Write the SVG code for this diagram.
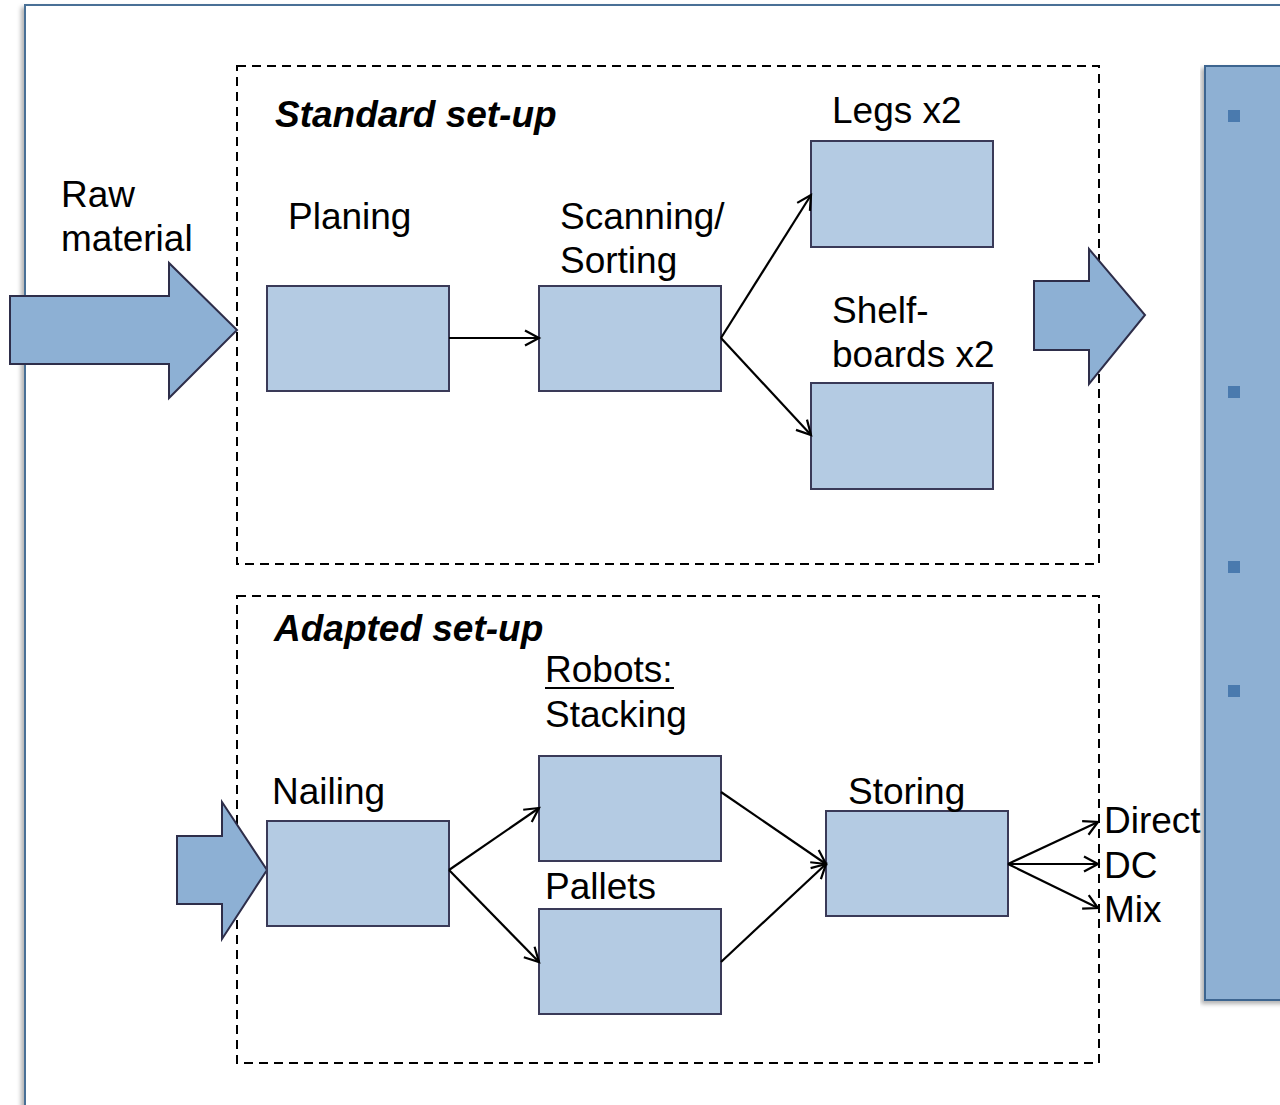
<svg xmlns="http://www.w3.org/2000/svg" width="1280" height="1105" viewBox="0 0 1280 1105">
<defs>
<style>
.t{font-family:"Liberation Sans",Arial,sans-serif;font-size:37px;fill:#000}
.b{font-weight:bold;font-style:italic}
.box{fill:#b4cbe3;stroke:#3a3a58;stroke-width:2}
.blk{fill:#8db0d4;stroke:#2e2e4a;stroke-width:2;stroke-linejoin:miter}
.dash{fill:none;stroke:#000;stroke-width:2;stroke-dasharray:9,6}
.c{fill:none;stroke:#000;stroke-width:2.2}
.bul{fill:#4a7aae}
</style>
<marker id="ah" markerWidth="18" markerHeight="18" refX="15" refY="9" orient="auto" markerUnits="userSpaceOnUse">
<path d="M1,1.5 L15,9 L1,16.5" fill="none" stroke="#000" stroke-width="2.2"/>
</marker>
<filter id="sh" x="-5%" y="-5%" width="110%" height="110%">
<feDropShadow dx="-3" dy="3" stdDeviation="2" flood-color="#000" flood-opacity="0.3"/>
</filter>
</defs>
<rect width="1280" height="1105" fill="#fff"/>
<g id="frame">
<rect x="25" y="5" width="1270" height="1120" fill="#fff" stroke="#4a6f96" stroke-width="2" filter="url(#sh)"/>
</g>
<g id="panel">
<rect x="1205" y="66" width="90" height="934" fill="#8eb0d3" stroke="#3c6590" stroke-width="2" filter="url(#sh)"/>
<rect class="bul" x="1228" y="110" width="12" height="12"/>
<rect class="bul" x="1228" y="386" width="12" height="12"/>
<rect class="bul" x="1228" y="561" width="12" height="12"/>
<rect class="bul" x="1228" y="685" width="12" height="12"/>
</g>
<g id="standard">
<rect class="dash" x="237" y="66" width="862" height="498"/>
<text class="t b" x="275" y="127">Standard set-up</text>
</g>
<g id="adapted">
<rect class="dash" x="237" y="596" width="862" height="467"/>
<text class="t b" x="274" y="641">Adapted set-up</text>
</g>
<g id="raw">
<text class="t" x="61" y="207">Raw</text>
<text class="t" x="61" y="251">material</text>
<path class="blk" d="M10,296 L169,296 L169,263 L237,330 L169,398 L169,364 L10,364 Z"/>
</g>
<g id="out-arrow">
<path class="blk" d="M1034,281 L1089,281 L1089,249 L1145,315 L1089,384 L1089,350 L1034,350 Z"/>
</g>
<g id="in-arrow2">
<path class="blk" d="M177,836 L222,836 L222,802 L267,870 L222,939 L222,904 L177,904 Z"/>
</g>
<g id="planing">
<rect class="box" x="267" y="286" width="182" height="105"/>
<text class="t" x="288" y="229">Planing</text>
</g>
<g id="scanning">
<rect class="box" x="539" y="286" width="182" height="105"/>
<text class="t" x="560" y="229">Scanning/</text>
<text class="t" x="560" y="273">Sorting</text>
</g>
<g id="legs">
<rect class="box" x="811" y="141" width="182" height="106"/>
<text class="t" x="832" y="123">Legs x2</text>
</g>
<g id="shelf">
<rect class="box" x="811" y="383" width="182" height="106"/>
<text class="t" x="832" y="323">Shelf-</text>
<text class="t" x="832" y="367">boards x2</text>
</g>
<g id="nailing">
<rect class="box" x="267" y="821" width="182" height="105"/>
<text class="t" x="272" y="804">Nailing</text>
</g>
<g id="robots">
<rect class="box" x="539" y="756" width="182" height="105"/>
<text class="t" x="545" y="682">Robots:</text>
<line x1="545" y1="688" x2="674" y2="688" stroke="#000" stroke-width="2"/>
<text class="t" x="545" y="727">Stacking</text>
</g>
<g id="pallets">
<rect class="box" x="539" y="909" width="182" height="105"/>
<text class="t" x="545" y="899">Pallets</text>
</g>
<g id="storing">
<rect class="box" x="826" y="811" width="182" height="105"/>
<text class="t" x="848" y="804">Storing</text>
</g>
<g id="outputs">
<text class="t" x="1104" y="833">Direct</text>
<text class="t" x="1104" y="878">DC</text>
<text class="t" x="1104" y="922">Mix</text>
</g>
<g id="connectors">
<line class="c" x1="449" y1="338" x2="539" y2="338" marker-end="url(#ah)"/>
<line class="c" x1="721" y1="338" x2="811" y2="195" marker-end="url(#ah)"/>
<line class="c" x1="721" y1="338" x2="811" y2="435" marker-end="url(#ah)"/>
<line class="c" x1="449" y1="870" x2="539" y2="808" marker-end="url(#ah)"/>
<line class="c" x1="449" y1="870" x2="539" y2="962" marker-end="url(#ah)"/>
<line class="c" x1="721" y1="792" x2="826" y2="864" marker-end="url(#ah)"/>
<line class="c" x1="721" y1="962" x2="826" y2="864" marker-end="url(#ah)"/>
<line class="c" x1="1008" y1="864" x2="1098" y2="822" marker-end="url(#ah)"/>
<line class="c" x1="1008" y1="864" x2="1098" y2="864" marker-end="url(#ah)"/>
<line class="c" x1="1008" y1="864" x2="1098" y2="908" marker-end="url(#ah)"/>
</g>
</svg>
